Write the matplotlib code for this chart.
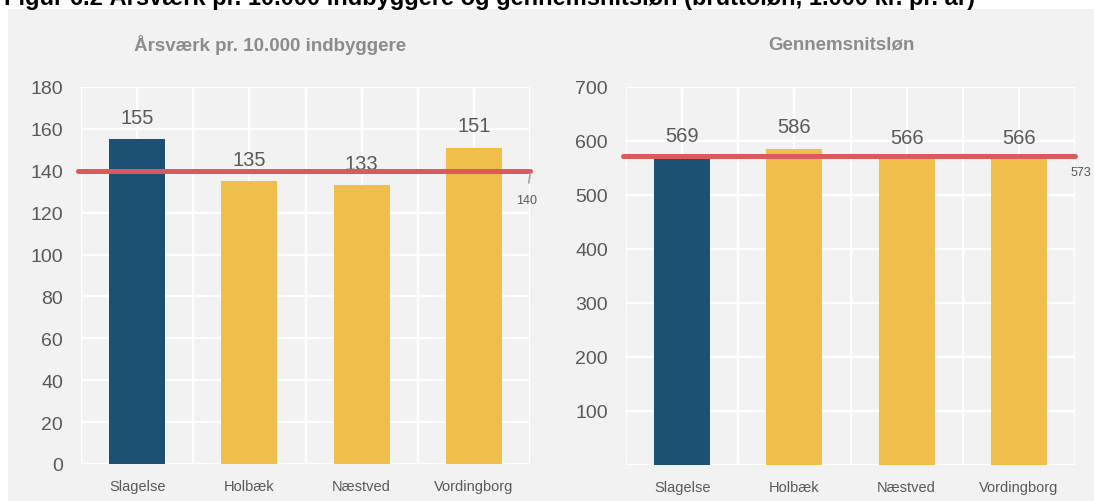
import matplotlib.pyplot as plt
from matplotlib.patches import Rectangle

plt.rcParams['font.family'] = ['Liberation Sans', 'DejaVu Sans']

# data
kommuner = ['Slagelse', 'Holbæk', 'Næstved', 'Vordingborg']
aarsvaerk = [155, 135, 133, 151]
aarsvaerk_snit = 140
loen = [569, 586, 566, 566]
loen_snit = 573

farver = ['#1D5174', '#F0BE4B', '#F0BE4B', '#F0BE4B']
graa = '#595959'
roed = '#DC5A5E'

fig = plt.figure(figsize=(10.94, 5.02), dpi=100)
fig.patch.set_facecolor('white')

# graa baggrund
fig.patches.append(Rectangle((8 / 1094, 0), 1, 1 - 10 / 502, transform=fig.transFigure,
                             facecolor='#F2F2F2', edgecolor='none', zorder=-10))

fig.text(0.004, 1 - 5 / 502, 'Figur 6.2 Årsværk pr. 10.000 indbyggere og gennemsnitsløn (bruttoløn, 1.000 kr. pr. år)',
         fontsize=17, fontweight='bold', color='black', va='baseline', ha='left')

ax1 = fig.add_axes([81 / 1094, 1 - 465 / 502, 449 / 1094, 377 / 502])
ax2 = fig.add_axes([626 / 1094, 1 - 466 / 502, 449 / 1094, 378 / 502])


def tegn(ax, vals, snit, ymax, step, hide_zero):
    ax.set_facecolor('none')
    x = range(len(kommuner))
    bars = ax.bar(x, vals, width=0.5, color=farver, zorder=2)
    for b, v in zip(bars, vals):
        ax.annotate(str(v), (b.get_x() + b.get_width() / 2, v), xytext=(0, 16),
                    textcoords='offset points', ha='center', va='center',
                    fontsize=14.5, color=graa)
    ax.plot([-0.53, 3.5], [snit, snit], color=roed, lw=3.6, solid_capstyle='round',
            clip_on=False, zorder=3)
    ax.set_xlim(-0.5, 3.5)
    ax.set_ylim(0, ymax)
    ax.set_xticks(list(x))
    ax.set_xticks([-0.5, 0.5, 1.5, 2.5, 3.5], minor=True)
    ax.set_xticklabels(kommuner, fontsize=10.5, color=graa)
    yt = list(range(0, ymax + 1, step))
    ax.set_yticks(yt)
    ax.set_yticklabels(['' if (t == 0 and hide_zero) else str(t) for t in yt],
                       fontsize=14, color=graa)
    ax.tick_params(axis='both', which='both', length=0)
    ax.tick_params(axis='x', pad=11)
    ax.tick_params(axis='y', pad=13)
    ax.grid(True, which='both', color='white', lw=1.6, zorder=0)
    ax.set_axisbelow(True)
    for s in ax.spines.values():
        s.set_visible(False)


tegn(ax1, aarsvaerk, aarsvaerk_snit, 180, 20, False)
tegn(ax2, loen, loen_snit, 700, 100, True)

# gennemsnit labels
ax1.annotate(str(aarsvaerk_snit), (3.505, aarsvaerk_snit), xytext=(-3, -21),
             textcoords='offset points', ha='center', va='center', fontsize=9, color=graa,
             annotation_clip=False,
             arrowprops=dict(arrowstyle='-', color='#A6A6A6', lw=1.3, shrinkA=6, shrinkB=2))
ax2.annotate(str(loen_snit), (3.5, loen_snit), xytext=(-3, -12),
             textcoords='offset points', ha='left', va='center', fontsize=9, color=graa,
             annotation_clip=False)

fig.text(270 / 1094, 1 - 45 / 502, 'Årsværk pr. 10.000 indbyggere', fontsize=13.5,
         fontweight='bold', color='#8C8C8C', ha='center', va='center')
fig.text(841 / 1094, 1 - 45 / 502, 'Gennemsnitsløn', fontsize=13.5,
         fontweight='bold', color='#8C8C8C', ha='center', va='center')

plt.savefig('out.png', dpi=100)
